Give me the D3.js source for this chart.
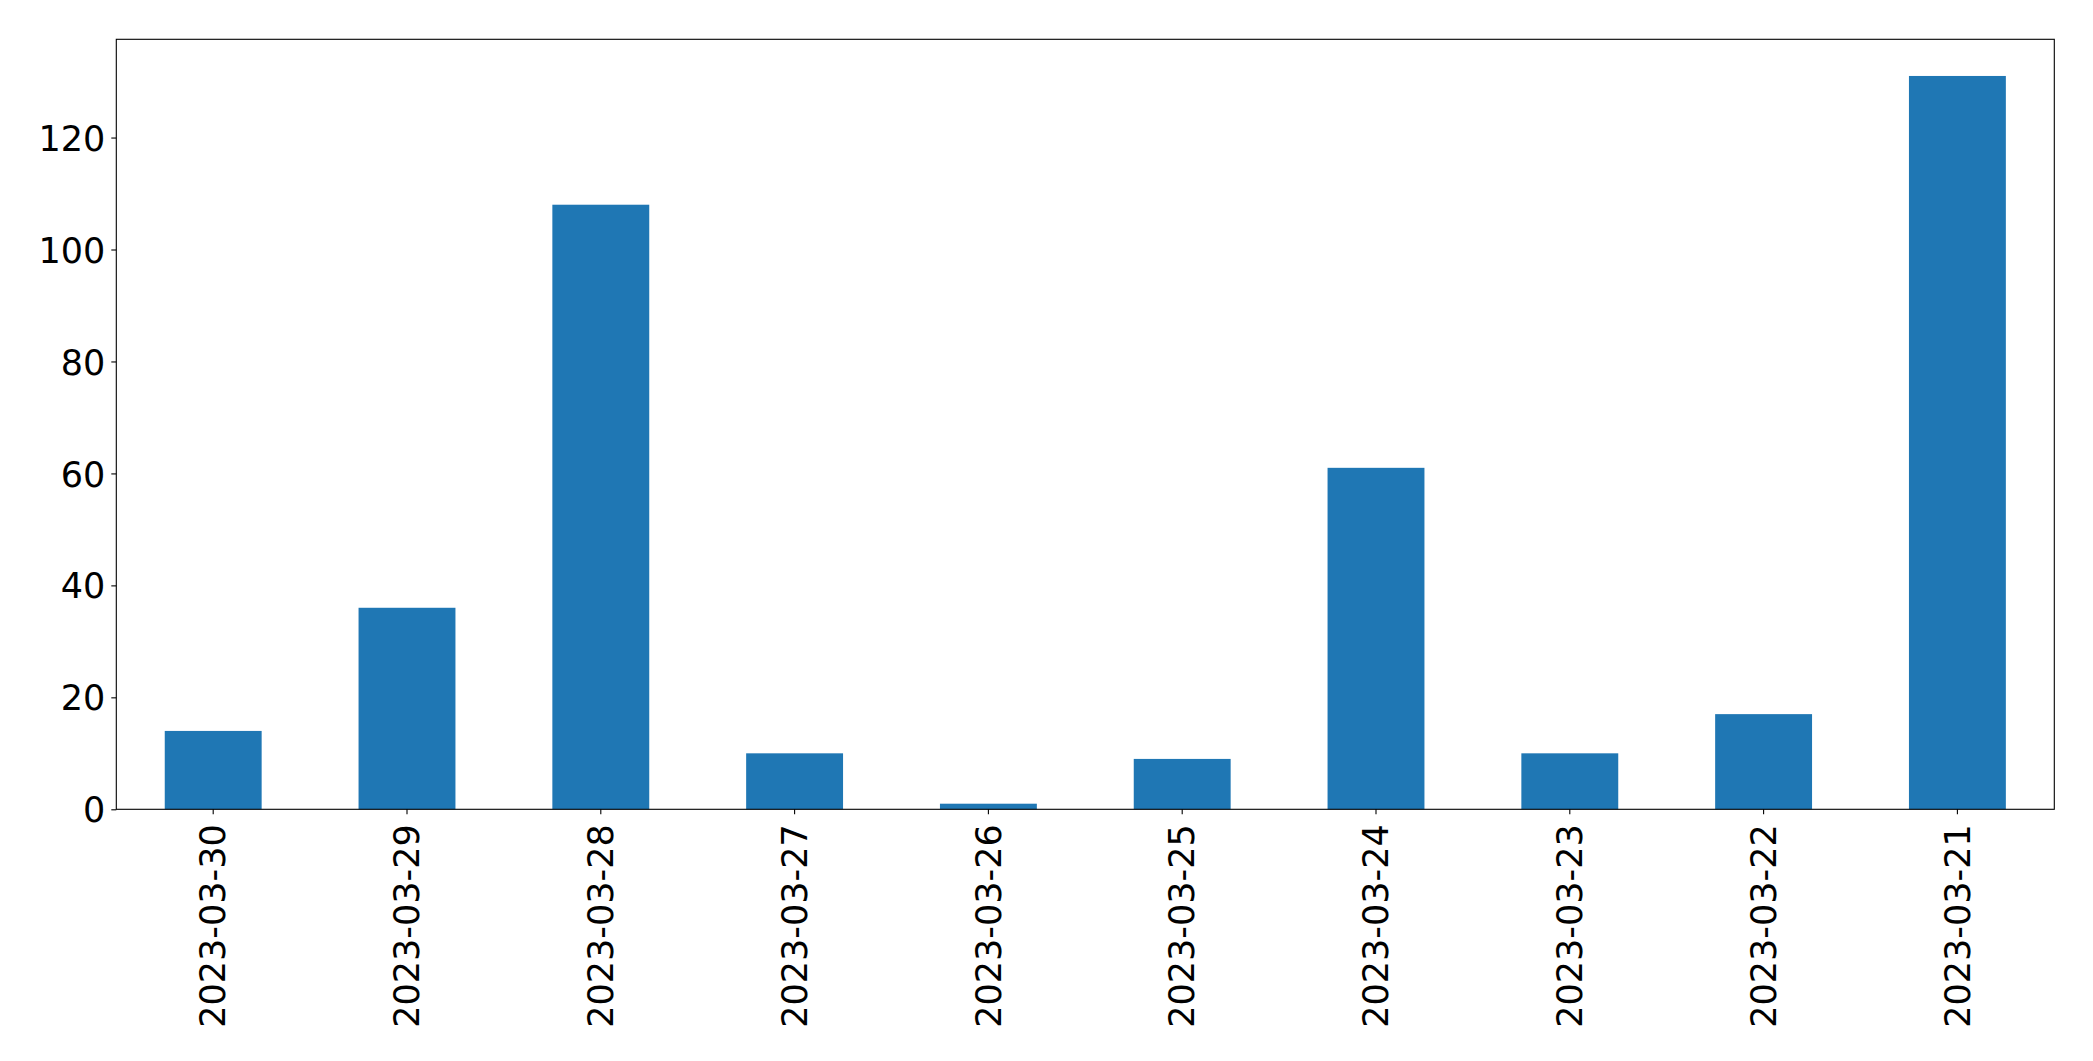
<!DOCTYPE html>
<html>
<head>
<meta charset="utf-8">
<script src="https://cdn.jsdelivr.net/npm/d3@7"></script>
<style>
  html, body { margin: 0; padding: 0; background: #fff; }
  svg { display: block; }
</style>
</head>
<body>
<svg id="chart" width="2093" height="1061"></svg>
<script>
const categories = ["2023-03-30","2023-03-29","2023-03-28","2023-03-27","2023-03-26","2023-03-25","2023-03-24","2023-03-23","2023-03-22","2023-03-21"];
const values = [14, 36, 108, 10, 1, 9, 61, 10, 17, 131];
const yTicks = [0, 20, 40, 60, 80, 100, 120];

const W = 2093, H = 1061;
const margin = {left: 116.3, top: 39.3, right: W - 2054.3, bottom: H - 809.3};
const iw = W - margin.left - margin.right;
const ih = H - margin.top - margin.bottom;
const svg = d3.select("#chart");
const g = svg.append("g").attr("transform", `translate(${margin.left},${margin.top})`);

const x = d3.scaleBand().domain(categories).range([0, iw]).paddingInner(0.5).paddingOuter(0.25);
const y = d3.scaleLinear().domain([0, d3.max(values) * 1.05]).range([ih, 0]);

g.selectAll("rect.bar").data(values).join("rect")
  .attr("class", "bar")
  .attr("x", (d, i) => x(categories[i]))
  .attr("width", x.bandwidth())
  .attr("y", d => y(d))
  .attr("height", d => y(0) - y(d))
  .attr("fill", "#1f77b4");

const font = "'DejaVu Sans', sans-serif";

const yAxis = g.append("g")
  .call(d3.axisLeft(y).tickValues(yTicks).tickSize(5).tickPadding(6).tickFormat(d3.format("d")));
yAxis.select(".domain").remove();
yAxis.selectAll("line").attr("stroke", "#000").attr("stroke-width", 1.1);
yAxis.selectAll("text").attr("font-family", font).attr("font-size", 35).attr("fill", "#000").attr("dy", "0.36em");

const xAxis = g.append("g").attr("transform", `translate(0,${ih})`)
  .call(d3.axisBottom(x).tickSize(5).tickPadding(0));
xAxis.select(".domain").remove();
xAxis.selectAll("line").attr("stroke", "#000").attr("stroke-width", 1.1);
xAxis.selectAll("text")
  .attr("font-family", font).attr("font-size", 35).attr("fill", "#000")
  .attr("text-anchor", "end")
  .attr("transform", "rotate(-90)")
  .attr("x", -15).attr("y", 0).attr("dy", "0.35em");

g.append("rect").attr("x", 0).attr("y", 0).attr("width", iw).attr("height", ih)
  .attr("fill", "none").attr("stroke", "#000").attr("stroke-width", 1.1);
</script>
</body>
</html>
